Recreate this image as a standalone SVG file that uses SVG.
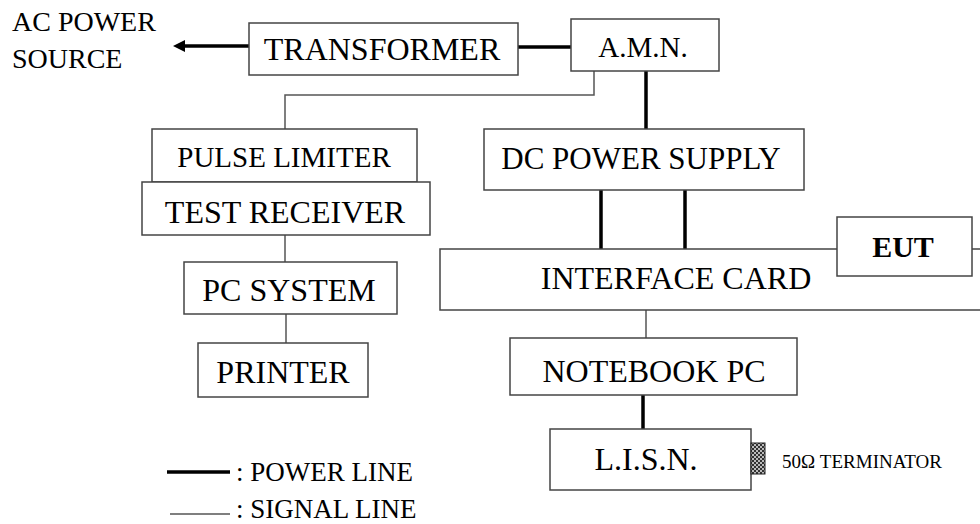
<svg xmlns="http://www.w3.org/2000/svg" width="980" height="524" viewBox="0 0 980 524" font-family="'Liberation Serif', Tinos, 'Times New Roman', 'DejaVu Serif', serif">
<defs>
<style>
.box{fill:#fff;stroke:#444;stroke-width:1.5}
.t{font-family:'Liberation Serif', Tinos, 'Times New Roman', 'DejaVu Serif', serif;fill:#000;text-anchor:middle}
.tl{font-family:'Liberation Serif', Tinos, 'Times New Roman', 'DejaVu Serif', serif;fill:#000}
.pw{stroke:#000;stroke-width:3.5;fill:none}
.sg{stroke:#555;stroke-width:1.5;fill:none}
</style>
<pattern id="chk" width="4" height="4" patternUnits="userSpaceOnUse">
<rect width="4" height="4" fill="#bbb"/>
<rect width="2" height="2" fill="#333"/>
<rect x="2" y="2" width="2" height="2" fill="#333"/>
</pattern>
</defs>
<rect width="980" height="524" fill="#fff"/>
<g id="connectors">
<line class="pw" x1="249" y1="46" x2="184" y2="46"/>
<path d="M185,40 L173,46 L185,52 Z" fill="#000"/>
<line class="pw" x1="518" y1="47" x2="571" y2="47"/>
<line class="pw" x1="646" y1="71" x2="646" y2="129"/>
<polyline class="sg" points="594,71 594,95 285,95 285,129"/>
<line class="sg" x1="285" y1="235" x2="285" y2="262"/>
<line class="sg" x1="286" y1="314" x2="286" y2="343"/>
<line class="pw" x1="601" y1="190" x2="601" y2="249"/>
<line class="pw" x1="685" y1="190" x2="685" y2="249"/>
<line class="sg" x1="646" y1="310" x2="646" y2="338"/>
<line class="pw" x1="643" y1="395" x2="643" y2="429"/>
</g>
<g id="ac-power-source">
<text class="tl" x="12" y="31" font-size="28">AC POWER</text>
<text class="tl" x="12" y="68" font-size="28">SOURCE</text>
</g>
<g id="transformer">
<rect class="box" x="249" y="23" width="269" height="52"/>
<text class="t" x="382" y="60" font-size="32">TRANSFORMER</text>
</g>
<g id="amn">
<rect class="box" x="571" y="19" width="148" height="52"/>
<text class="t" x="643" y="57" font-size="29">A.M.N.</text>
</g>
<g id="pulse-limiter">
<rect class="box" x="152" y="129" width="265" height="53"/>
<text class="t" x="284" y="167" font-size="29">PULSE LIMITER</text>
</g>
<g id="test-receiver">
<rect class="box" x="142" y="182" width="288" height="53"/>
<text class="t" x="285" y="223" font-size="32">TEST RECEIVER</text>
</g>
<g id="pc-system">
<rect class="box" x="184" y="262" width="213" height="52"/>
<text class="t" x="289" y="301" font-size="32">PC SYSTEM</text>
</g>
<g id="printer">
<rect class="box" x="198" y="343" width="170" height="54"/>
<text class="t" x="283" y="383" font-size="32">PRINTER</text>
</g>
<g id="dc-power-supply">
<rect class="box" x="484" y="129" width="320" height="61"/>
<text class="t" x="641" y="169" font-size="31">DC POWER SUPPLY</text>
</g>
<g id="interface-card">
<rect class="box" x="440" y="249" width="560" height="61"/>
<text class="t" x="676" y="289" font-size="32">INTERFACE CARD</text>
</g>
<g id="eut">
<rect class="box" x="837" y="217" width="135" height="59"/>
<text class="t" x="903" y="257" font-size="30" font-weight="bold">EUT</text>
</g>
<g id="notebook-pc">
<rect class="box" x="510" y="338" width="287" height="57"/>
<text class="t" x="654" y="382" font-size="32">NOTEBOOK PC</text>
</g>
<g id="lisn">
<rect class="box" x="550" y="429" width="201" height="61"/>
<text class="t" x="646" y="470" font-size="32">L.I.S.N.</text>
</g>
<g id="terminator">
<rect x="751" y="443" width="14" height="31" fill="url(#chk)" stroke="#222" stroke-width="1"/>
<text class="tl" x="782" y="468" font-size="19">50Ω TERMINATOR</text>
</g>
<g id="legend">
<line class="pw" x1="167" y1="472" x2="230" y2="472"/>
<text class="tl" x="236" y="481" font-size="27">: POWER LINE</text>
<line class="sg" x1="170" y1="514" x2="230" y2="514"/>
<text class="tl" x="236" y="518" font-size="27">: SIGNAL LINE</text>
</g>
</svg>
